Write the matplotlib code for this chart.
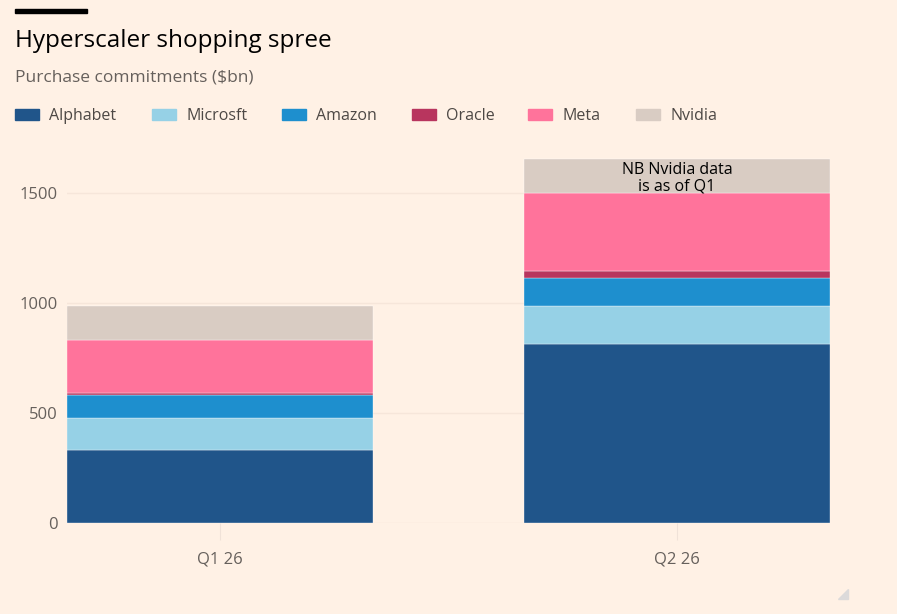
import matplotlib
matplotlib.use("Agg")
import matplotlib.pyplot as plt
import numpy as np
from matplotlib.patches import Rectangle, Polygon

quarters = ["Q1 26", "Q2 26"]
companies = ["Alphabet", "Microsft", "Amazon", "Oracle", "Meta", "Nvidia"]
alphabet = [332, 814]
microsoft = [145, 172]
amazon = [105, 130]
oracle = [9, 32]
meta = [241, 352]
nvidia = [156, 156]

colors = ["#20558a", "#96d1e6", "#1e8fce", "#b8355e", "#ff739b", "#d9ccc3"]
bg = "#fff1e5"
grey = "#66605c"

plt.rcParams["font.family"] = ["Open Sans", "DejaVu Sans"]

fig = plt.figure(figsize=(8.97, 6.14), dpi=100, facecolor=bg)
ax = fig.add_axes([0.0747, 0.1477, 0.8506, 0.6093], facecolor=bg)

series = [alphabet, microsoft, amazon, oracle, meta, nvidia]
x = np.arange(len(quarters))
bottom = np.zeros(len(quarters))
for name, vals, col in zip(companies, series, colors):
    ax.bar(x, vals, bottom=bottom, width=0.67, color=col, label=name,
           edgecolor="#ffffff", linewidth=0.25, zorder=2)
    bottom += np.array(vals)

ax.set_xlim(-0.335, 1.335)
ax.set_ylim(0, 1700)
ax.set_yticks([0, 500, 1000, 1500])
ax.set_xticks(x)
ax.set_xticklabels(quarters)
ax.grid(axis="y", color="#f6e6da", linewidth=1, zorder=0)
for s in ax.spines.values():
    s.set_visible(False)
ax.tick_params(axis="y", length=0, labelsize=12, labelcolor=grey, pad=7)
ax.tick_params(axis="x", length=12, color="#f0e2d8", labelsize=12,
               labelcolor=grey, pad=8)

ax.text(1, bottom[1] - 12, "NB Nvidia data\nis as of Q1", ha="center", va="top",
        fontsize=11.5, color="#000000", linespacing=1.05, zorder=3)

# header
fig.patches.append(Rectangle((15 / 897, 1 - 13 / 614), 72 / 897, 4 / 614,
                             transform=fig.transFigure, color="black"))
fig.text(15 / 897, 1 - 41 / 614, "Hyperscaler shopping spree", fontsize=17.5,
         color="#000000", va="center", ha="left")
fig.text(15 / 897, 1 - 78 / 614, "Purchase commitments ($bn)", fontsize=12.5,
         color=grey, va="center", ha="left")

# legend
legend_x = [15, 152, 282, 412, 528, 636]
for lx, name, col in zip(legend_x, companies, colors):
    fig.patches.append(Rectangle((lx / 897, 1 - 119.5 / 614), 24 / 897, 11 / 614,
                                 transform=fig.transFigure, color=col))
    fig.text((lx + 34) / 897, 1 - 115.5 / 614, name, fontsize=11.5, color="#4d4845",
             va="center", ha="left")

# resize handle
fig.patches.append(Polygon([[848 / 897, 1 - 589 / 614], [848 / 897, 1 - 599 / 614],
                            [838 / 897, 1 - 599 / 614]], closed=True,
                           transform=fig.transFigure, color="#dcdada"))

fig.savefig("out.png", dpi=100, facecolor=bg)
